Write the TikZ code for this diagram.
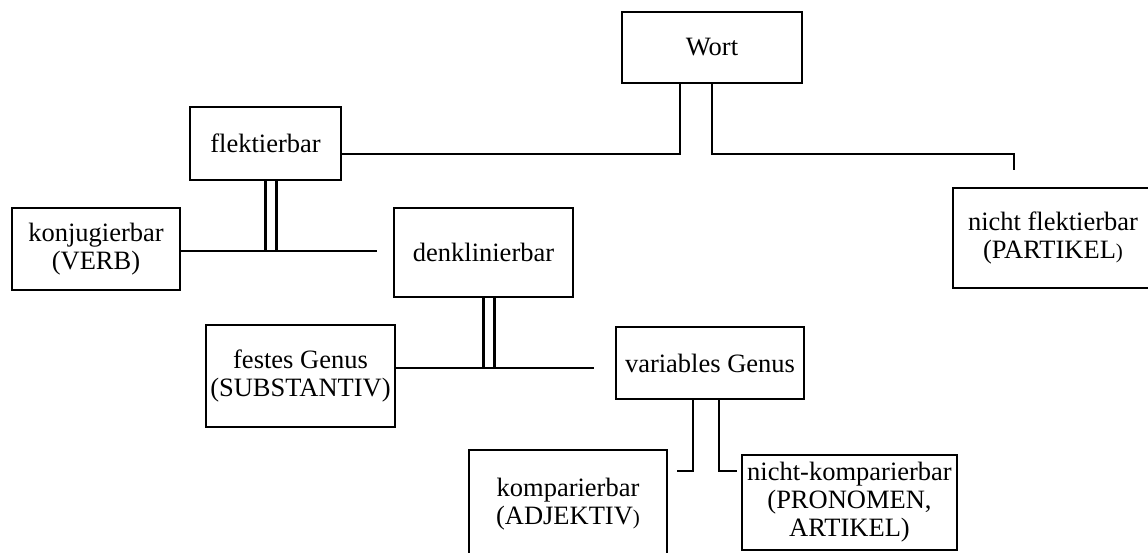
\documentclass[tikz,border=0pt]{standalone}
\usepackage{fontspec}
\setmainfont{Liberation Serif}
\usepackage{tikz}
\newcommand{\klein}[1]{{\fontsize{21pt}{21pt}\selectfont #1}}

\begin{document}
\begin{tikzpicture}[x=1pt,y=-1pt,line width=2.1pt,
  wbox/.style={draw,rectangle,inner sep=0pt,outer sep=0pt,align=center,
    font=\fontsize{26.5pt}{28pt}\selectfont}]
\clip (0,0) rectangle (1148,552);
\node[wbox,minimum width=180pt,minimum height=71pt] (wort) at (712,47.5) {Wort};
\node[wbox,minimum width=151pt,minimum height=73pt] (flekt) at (265.5,143.5) {flektierbar};
\node[wbox,minimum width=200pt,minimum height=100pt] (nflekt) at (1053,238) {nicht flektierbar\\(PARTIKEL\klein{)}};
\node[wbox,minimum width=168pt,minimum height=82pt] (konj) at (96,249) {konjugierbar\\(VERB)};
\node[wbox,minimum width=179pt,minimum height=89pt] (dekl) at (483.5,252.5) {denklinierbar};
\node[wbox,minimum width=189pt,minimum height=102pt] (festg) at (300.5,376) {festes Genus\\(SUBSTANTIV)};
\node[wbox,minimum width=188pt,minimum height=72pt] (varg) at (710,363) {variables Genus};
\node[wbox,minimum width=198pt,minimum height=108pt] (kompar) at (568,504) {komparierbar\\(ADJEKTIV\klein{)}};
\node[wbox,minimum width=215pt,minimum height=95pt] (nkompar) at (849.5,502.5) {nicht-komparierbar\\(PRONOMEN,\\ARTIKEL)};
\coordinate (ptick) at (1014,170);
\coordinate (kend) at (377,251);
\coordinate (fend) at (594,368);
\draw (flekt.east |- 0,154) -| ([xshift=-32pt]wort.south);
\draw (wort.south) |- (ptick |- 0,154) -- (ptick);
\draw (konj.east |- kend) -- (kend);
\draw (flekt.south) -- (flekt.south |- kend);
\draw ([xshift=11pt]flekt.south) -- ([xshift=11pt]flekt.south |- kend);
\draw (festg.east |- fend) -- (fend);
\draw (dekl.south) -- (dekl.south |- fend);
\draw ([xshift=11pt]dekl.south) -- ([xshift=11pt]dekl.south |- fend);
\draw ([xshift=-17pt]varg.south) |- ([xshift=10pt]kompar.east |- 0,471);
\draw ([xshift=9pt]varg.south) |- ([xshift=-5pt]nkompar.west |- 0,471);
\end{tikzpicture}
\end{document}
